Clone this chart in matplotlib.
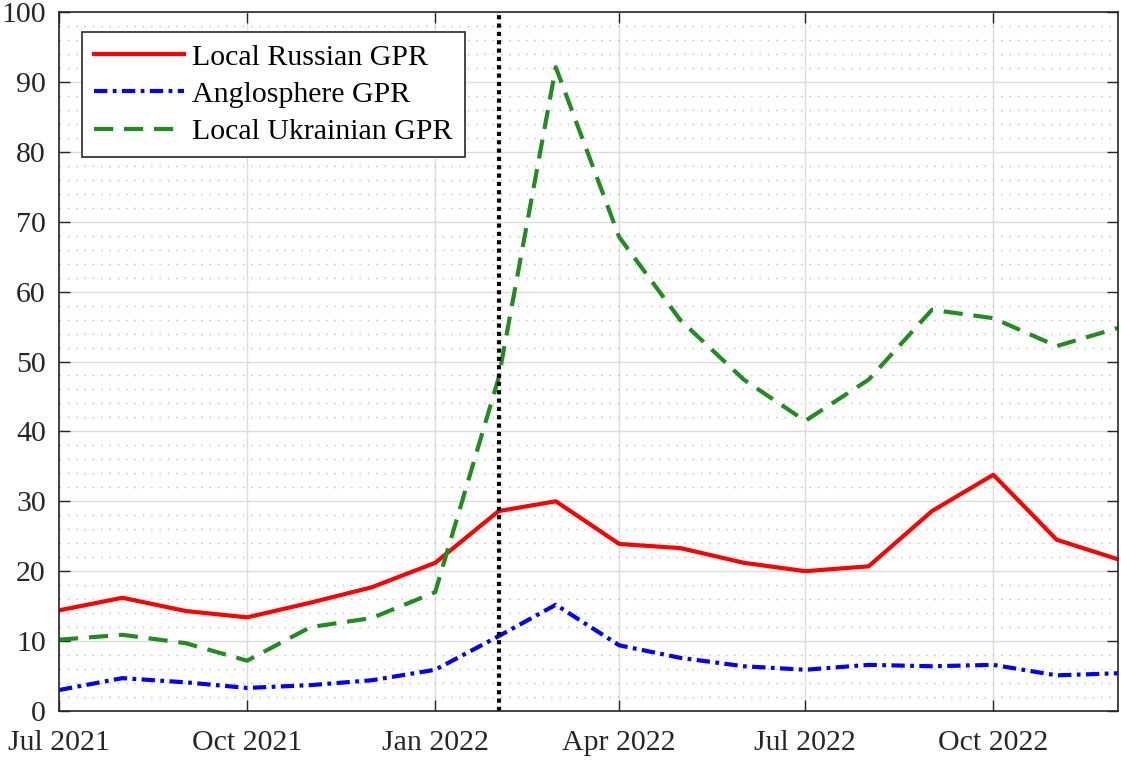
import datetime as dt
import matplotlib
matplotlib.use('Agg')
import matplotlib.pyplot as plt
import matplotlib.dates as mdates
from matplotlib.ticker import MultipleLocator

plt.rcParams['font.family'] = ['Liberation Serif', 'DejaVu Serif']

# monthly observations, Jul 2021 .. Dec 2022
months = [dt.date(2021, 7, 1), dt.date(2021, 8, 1), dt.date(2021, 9, 1),
          dt.date(2021, 10, 1), dt.date(2021, 11, 1), dt.date(2021, 12, 1),
          dt.date(2022, 1, 1), dt.date(2022, 2, 1), dt.date(2022, 3, 1),
          dt.date(2022, 4, 1), dt.date(2022, 5, 1), dt.date(2022, 6, 1),
          dt.date(2022, 7, 1), dt.date(2022, 8, 1), dt.date(2022, 9, 1),
          dt.date(2022, 10, 1), dt.date(2022, 11, 1), dt.date(2022, 12, 1)]

russian = [14.4, 16.2, 14.3, 13.4, 15.5, 17.7, 21.2, 28.6, 30.0,
           23.9, 23.3, 21.2, 20.0, 20.7, 28.6, 33.8, 24.5, 21.7]
anglo = [3.0, 4.7, 4.1, 3.3, 3.7, 4.4, 5.9, 10.7, 15.2,
         9.4, 7.6, 6.4, 5.9, 6.6, 6.4, 6.6, 5.1, 5.4]
ukrainian = [10.2, 10.9, 9.7, 7.2, 12.0, 13.3, 17.0, 47.6, 92.1,
             67.8, 55.9, 47.4, 41.5, 47.4, 57.4, 56.2, 52.2, 54.8]

invasion = dt.date(2022, 2, 1)
tick_dates = [dt.date(2021, 7, 1), dt.date(2021, 10, 1), dt.date(2022, 1, 1),
              dt.date(2022, 4, 1), dt.date(2022, 7, 1), dt.date(2022, 10, 1)]

fig = plt.figure(figsize=(11.21, 7.60), dpi=100)
ax = fig.add_axes([59 / 1121, 1 - 711 / 760, (1118 - 59) / 1121, (711 - 12) / 760])

ax.plot(months, russian, color='red', lw=3.0, ls='-', label='Local Russian GPR')
ax.plot(months, anglo, color='blue', lw=3.0, ls='-.', dashes=(3.2, 1.3, 0.9, 1.3),
        label='Anglosphere GPR')
ax.plot(months, ukrainian, color='forestgreen', lw=3.0, ls='--', dashes=(4.6, 2.6),
        label='Local Ukrainian GPR')
ax.axvline(invasion, color='black', lw=3.0, ls=':', dashes=(1, 1))

ax.set_xlim(months[0], months[-1])
ax.set_ylim(0, 100)
ax.set_xticks(tick_dates)
ax.xaxis.set_major_formatter(mdates.DateFormatter('%b %Y'))
ax.yaxis.set_major_locator(MultipleLocator(10))
ax.yaxis.set_minor_locator(MultipleLocator(2))

ax.grid(which='major', color='#dcdcdc', lw=1.0)
ax.grid(which='minor', axis='y', color='#c0c0c0', lw=1.0, ls=':', dashes=(1, 5))
ax.set_axisbelow(True)

ax.tick_params(which='major', direction='in', length=8, width=1.0, colors='#262626',
               top=True, right=True, labelsize=21.5, pad=9.5)
ax.tick_params(axis='x', which='major', pad=14)
ax.tick_params(which='minor', length=0, top=True, right=True)
ax.tick_params(axis='x', which='minor', bottom=False, top=False)
for s in ax.spines.values():
    s.set_color('#262626')
    s.set_linewidth(1.2)

leg = ax.legend(loc='upper left', bbox_to_anchor=(23 / 1059, 1 - 20 / 699), fontsize=21.5,
                frameon=True, fancybox=False, handlelength=3.0, handletextpad=0.3,
                labelspacing=0.34, borderpad=0.4, borderaxespad=0.0)
leg.get_frame().set_edgecolor('#262626')
leg.get_frame().set_linewidth(1.2)
leg.get_frame().set_alpha(1.0)

fig.savefig('out.png', dpi=100)
